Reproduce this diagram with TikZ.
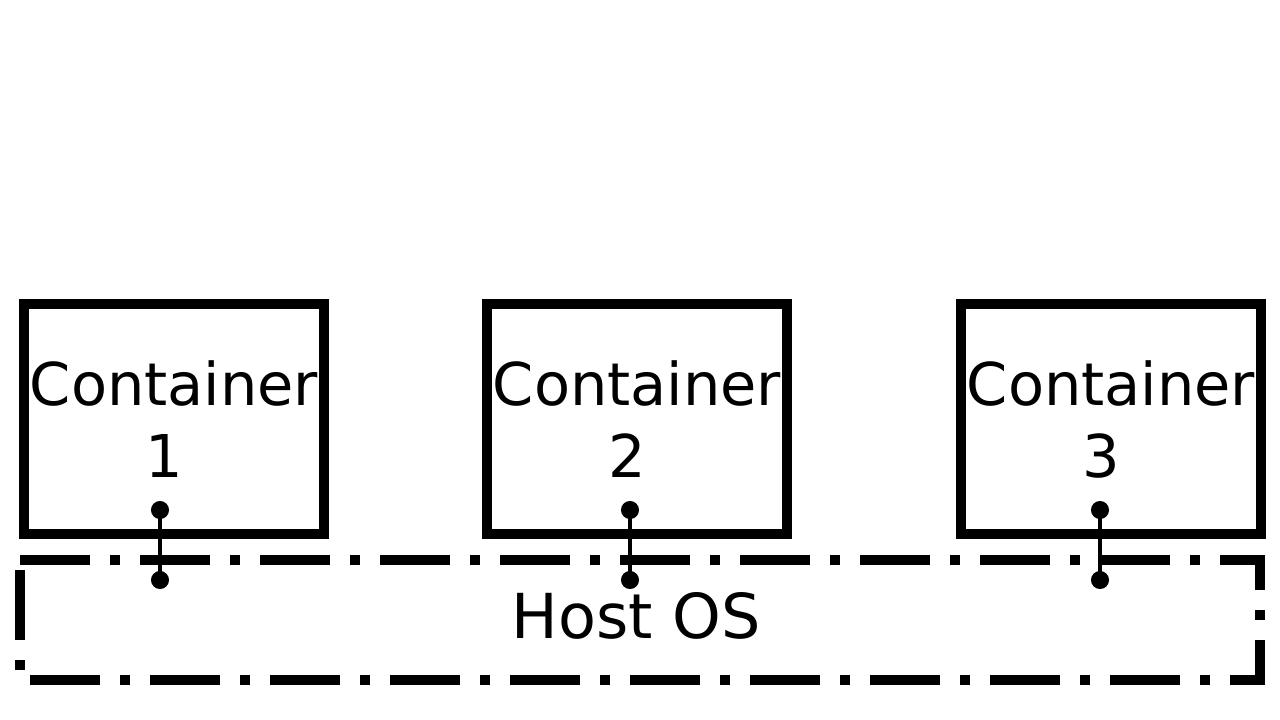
\documentclass[tikz,border=0pt]{standalone}
\usepackage{fontspec}
\setmainfont{DejaVu Sans}
\usepackage{tikz}
\usetikzlibrary{arrows.meta,positioning}

\begin{document}
\begin{tikzpicture}[
            x=1pt, y=-1pt,
            font=\fontsize{59}{72}\selectfont,
            node distance=163pt,
            ctr/.style={draw, line width=10pt, minimum width=300pt,
            minimum height=230pt, inner sep=0pt, outer sep=0pt, align=center},
            hostbox/.style={minimum width=1240pt, minimum height=120pt,
            inner sep=0pt, outer sep=0pt, text depth=10pt,
            font=\fontsize{62}{72}\selectfont},
            hostline/.style={line width=10pt,
            dash pattern=on 70pt off 20pt on 10pt off 20pt},
            link/.style={{Circle[length=18pt]}-{Circle[length=18pt]}, line width=4pt,
            shorten <=-9pt, shorten >=-9pt}
        ]
            \useasboundingbox (0,0) rectangle (1280,720);
% containers
            \node[ctr] at (174,419)        (c1) {Container\\1\hspace*{0.32em}};
            \node[ctr, right=of c1]        (c2) {Container\\2\hspace*{0.32em}};
            \node[ctr, right=174pt of c2]  (c3) {Container\\3\hspace*{0.32em}};
% host
            \node[hostbox] at (640,620)    (os) {Host OS\hspace*{8pt}};
            \draw[hostline] (os.north west) -- (os.north east)
                -- (os.south east) -- (os.south west) -- cycle;
% link ends
            \coordinate (t1) at (160,510);
            \coordinate (b1) at (160,580);
            \coordinate (t2) at (630,510);
            \coordinate (b2) at (630,580);
            \coordinate (t3) at (1100,510);
            \coordinate (b3) at (1100,580);

            \draw[link] (t1) -- (b1);
            \draw[link] (t2) -- (b2);
            \draw[link] (t3) -- (b3);
        \end{tikzpicture}
\end{document}
